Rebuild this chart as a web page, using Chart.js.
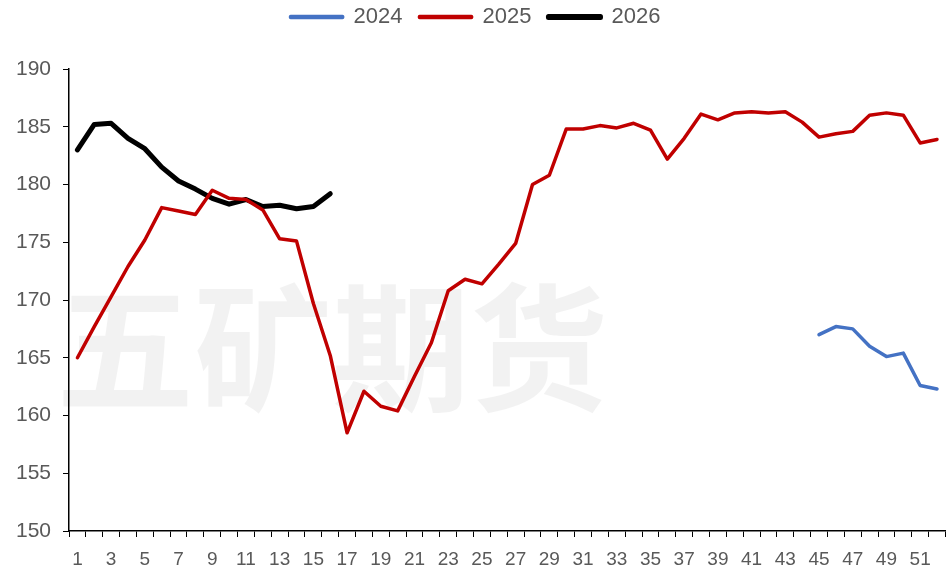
<!DOCTYPE html>
<html>
<head>
<meta charset="utf-8">
<script src="https://cdn.jsdelivr.net/npm/chart.js@4.4.1/dist/chart.umd.min.js"></script>
<style>
  html, body { margin: 0; padding: 0; background: #fff; }
  #wrap { width: 948px; height: 566px; }
</style>
</head>
<body>
<div id="wrap"><canvas id="myChart"></canvas></div>
<script>
// weeks 1..52
const weeks = Array.from({ length: 52 }, (_, i) => String(i + 1));

const yTicks = [150, 155, 160, 165, 170, 175, 180, 185, 190];

// 2024 only has the last weeks (45-52)
const s2024 = [
  null, null, null, null, null, null, null, null, null, null,
  null, null, null, null, null, null, null, null, null, null,
  null, null, null, null, null, null, null, null, null, null,
  null, null, null, null, null, null, null, null, null, null,
  null, null, null, null,
  167.0, 167.7, 167.5, 166.0, 165.1, 165.4, 162.6, 162.3
];

const s2025 = [
  165.0, 167.7, 170.3, 172.9, 175.2, 178.0, 177.7, 177.4, 179.5, 178.8,
  178.7, 177.8, 175.3, 175.1, 169.7, 165.2, 158.5, 162.1, 160.8, 160.4,
  163.4, 166.3, 170.8, 171.8, 171.4, 173.1, 174.9, 180.0, 180.8, 184.8,
  184.8, 185.1, 184.9, 185.3, 184.7, 182.2, 184.0, 186.1, 185.6, 186.2,
  186.3, 186.2, 186.3, 185.4, 184.1, 184.4, 184.6, 186.0, 186.2, 186.0,
  183.6, 183.9
];

const s2026 = [
  183.0, 185.2, 185.3, 184.0, 183.1, 181.5, 180.3, 179.6, 178.8, 178.3,
  178.7, 178.1, 178.2, 177.9, 178.1, 179.2
];

const fontFamily = "'Liberation Sans', Arial, sans-serif";
const textColor = '#595959';

// light watermark behind the lines
const watermark = {
  id: 'watermark',
  beforeDatasetsDraw(chart) {
    const ctx = chart.ctx;
    ctx.save();
    ctx.font = "bold 138px 'Noto Sans CJK SC'";
    ctx.fillStyle = 'rgba(0,0,0,0.05)';
    ctx.textAlign = 'left';
    ctx.textBaseline = 'middle';
    ctx.fillText('五矿期货', 56, 348);
    ctx.restore();
  }
};

// push the plot area down below the legend
const legendGap = {
  id: 'legendGap',
  beforeInit(chart) {
    const fit = chart.legend.fit;
    chart.legend.fit = function () {
      fit.bind(chart.legend)();
      this.height += 31;
    };
  }
};

const data = {
  labels: weeks,
  datasets: [
    {
      label: '2024',
      data: s2024,
      borderColor: '#4472C4',
      backgroundColor: '#4472C4',
      borderWidth: 3.5,
    },
    {
      label: '2025',
      data: s2025,
      borderColor: '#C00000',
      backgroundColor: '#C00000',
      borderWidth: 3.5,
    },
    {
      label: '2026',
      data: s2026,
      borderColor: '#000000',
      backgroundColor: '#000000',
      borderWidth: 5,
    },
  ],
};

const options = {
  responsive: true,
  maintainAspectRatio: false,
  animation: false,
  layout: {
    padding: { top: -11, bottom: 0, left: 0, right: -3 },
  },
  elements: {
    point: { radius: 0 },
    line: { tension: 0, borderCapStyle: 'round', borderJoinStyle: 'round' },
  },
  plugins: {
    tooltip: { enabled: false },
    legend: {
      position: 'top',
      labels: {
        color: textColor,
        font: { family: fontFamily, size: 22 },
        boxWidth: 52,
        boxHeight: 1,
        padding: 17,
      },
    },
  },
  scales: {
    x: {
      offset: true,
      grid: { offset: true, drawOnChartArea: false, color: '#000', tickLength: 6 },
      border: { color: '#000', width: 1.5 },
      ticks: {
        color: textColor,
        font: { family: fontFamily, size: 19 },
        autoSkip: false,
        maxRotation: 0,
        padding: 11,
        callback: (v, i) => (i % 2 === 0 ? weeks[i] : ''),
      },
      afterFit: (s) => { s.height = 35; },
    },
    y: {
      min: 150,
      max: 190,
      afterBuildTicks: (s) => { s.ticks = yTicks.map(v => ({ value: v })); },
      grid: { drawOnChartArea: false, color: '#000', tickLength: 6 },
      border: { color: '#000', width: 1.5 },
      ticks: { color: textColor, font: { family: fontFamily, size: 21 }, padding: 12 },
      afterFit: (s) => { s.width = 69; },
    },
  },
};

new Chart(document.getElementById('myChart'), {
  type: 'line',
  data: data,
  options: options,
  plugins: [watermark, legendGap],
});
</script>
</body>
</html>
